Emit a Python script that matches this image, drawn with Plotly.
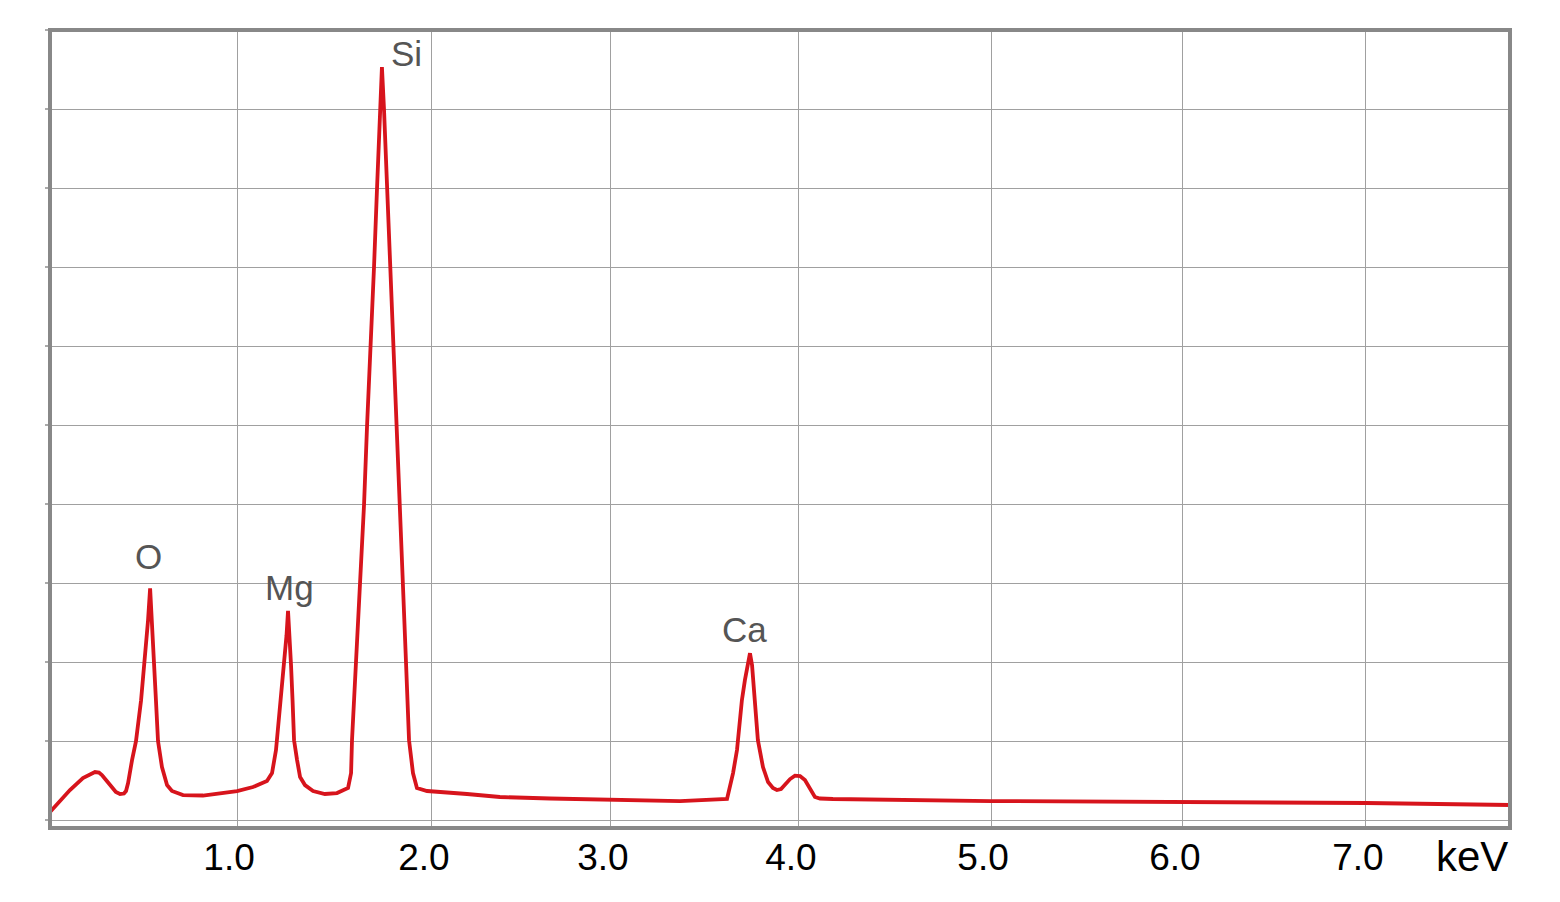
import plotly.graph_objects as go

# ---- data (energy in keV, intensity in grid units) ----
energy = [0.000, 0.053, 0.106, 0.175, 0.212, 0.239, 0.260, 0.276, 0.302, 0.330,
          0.350, 0.372, 0.393, 0.404, 0.415, 0.436,
          0.457, 0.484, 0.505, 0.521, 0.532, 0.542, 0.553, 0.563, 0.574, 0.595,
          0.622, 0.648, 0.707, 0.813, 0.994, 1.079, 1.153, 1.180, 1.201, 1.206,
          1.228, 1.244, 1.257, 1.265, 1.273, 1.281, 1.289, 1.297, 1.313, 1.329,
          1.355, 1.398, 1.461, 1.525, 1.584, 1.600, 1.605, 1.626, 1.647, 1.669,
          1.685, 1.706, 1.722, 1.738, 1.754, 1.764, 1.775, 1.791, 1.807, 1.823,
          1.839, 1.860, 1.876, 1.892, 1.908, 1.929, 1.950, 2.004, 2.216, 2.391,
          2.657, 2.981, 3.348, 3.598, 3.630, 3.651, 3.656, 3.677, 3.693, 3.709,
          3.720, 3.731, 3.741, 3.752, 3.762, 3.789, 3.816, 3.842, 3.863, 3.885,
          3.906, 3.933, 3.959, 3.986, 4.012, 4.033, 4.049, 4.065, 4.092, 4.161,
          5.001, 6.021, 6.993, 7.759]
counts = [0.107, 0.246, 0.385, 0.537, 0.587, 0.613, 0.606, 0.575, 0.499, 0.411,
          0.360, 0.335, 0.341, 0.373, 0.474, 0.764,
          1.004, 1.522, 2.027, 2.532, 2.937, 2.532, 2.027, 1.522, 1.004, 0.676,
          0.448, 0.373, 0.322, 0.316, 0.373, 0.423, 0.499, 0.600, 0.891, 1.016,
          1.522, 1.964, 2.343, 2.652, 2.343, 1.964, 1.522, 1.016, 0.764, 0.550,
          0.448, 0.373, 0.335, 0.347, 0.411, 0.600, 1.016, 2.001, 3.000, 3.998,
          4.996, 6.007, 7.005, 8.003, 9.000, 9.531, 9.000, 8.003, 7.005, 6.007,
          4.996, 3.998, 3.000, 2.001, 1.016, 0.600, 0.411, 0.373, 0.335, 0.297,
          0.278, 0.259, 0.246, 0.272, 0.600, 0.891, 1.016, 1.522, 1.775, 1.964,
          2.116, 1.964, 1.648, 1.333, 1.016, 0.676, 0.486, 0.411, 0.385, 0.398,
          0.448, 0.524, 0.568, 0.562, 0.512, 0.423, 0.347, 0.297, 0.278, 0.272,
          0.246, 0.230, 0.221, 0.196]
assert len(energy) == len(counts)

element_names = ["O", "Mg", "Si", "Ca"]
element_x = [0.526, 1.273, 1.895, 3.691]
element_y = [3.341, 2.949, 9.707, 2.419]

tick_positions = [0.994, 2.030, 2.981, 3.980, 5.001, 6.021, 6.993]
tick_labels = ["1.0", "2.0", "3.0", "4.0", "5.0", "6.0", "7.0"]
y_grid = list(range(0, 11))

RED = "#d7141c"
GRID = "#a0a0a0"
FRAME = "#888888"
FONT = "Liberation Sans, Arial, sans-serif"

fig = go.Figure()
fig.add_trace(go.Scatter(x=energy, y=counts, mode="lines",
                         line=dict(color=RED, width=3.8), hoverinfo="skip",
                         showlegend=False))

for name, ex, ey in zip(element_names, element_x, element_y):
    fig.add_annotation(x=ex, y=ey, xref="x", yref="y", text=name,
                       showarrow=False, xanchor="center", yanchor="middle",
                       font=dict(family=FONT, size=35, color="#555555"))

fig.add_annotation(x=1, y=-0.036, xref="paper", yref="paper", text="keV",
                   showarrow=False, xanchor="right", yanchor="middle",
                   font=dict(family=FONT, size=42, color="#000000"))

fig.add_shape(type="rect", xref="paper", yref="paper", x0=0, y0=0, x1=1, y1=1,
              line=dict(color=FRAME, width=4), layer="above")

fig.update_xaxes(range=[0, 7.759], tickmode="array", tickvals=tick_positions,
                 ticktext=tick_labels, showgrid=True, gridcolor=GRID,
                 gridwidth=1.4, zeroline=False, showline=False, ticks="",
                 ticklabelshift=-8, ticklabelstandoff=4,
                 tickfont=dict(family=FONT, size=37, color="#000000"))
fig.update_yaxes(range=[-0.095, 10], tickmode="array", tickvals=y_grid,
                 showgrid=True, gridcolor=GRID, gridwidth=1.4, zeroline=False,
                 showline=False, ticks="outside", ticklen=4, tickwidth=1.5,
                 tickcolor="#aaaaaa", showticklabels=False)

# the page body adds an 8px margin, so the figure is 8px smaller than the window
fig.update_layout(width=1552, height=894, paper_bgcolor="white",
                  plot_bgcolor="white",
                  margin=dict(l=42, r=50, t=22, b=74, pad=0))

fig.write_html("out.html")
